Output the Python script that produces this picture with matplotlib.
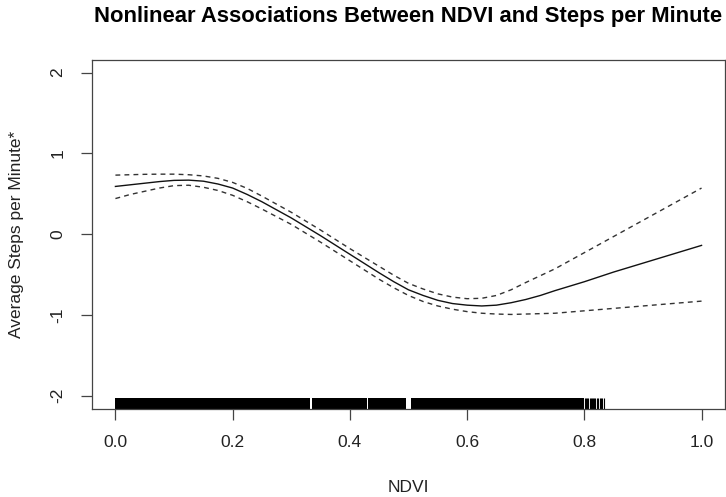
import matplotlib
matplotlib.use("Agg")
import matplotlib.pyplot as plt

# smooth term for NDVI with pointwise confidence band
ndvi = [0.000, 0.025, 0.050, 0.075, 0.100, 0.125, 0.150, 0.175, 0.200, 0.225,
        0.250, 0.275, 0.300, 0.325, 0.350, 0.375, 0.400, 0.425, 0.450, 0.475,
        0.500, 0.525, 0.550, 0.575, 0.600, 0.625, 0.650, 0.675, 0.700, 0.725,
        0.750, 0.775, 0.800, 0.825, 0.850, 0.875, 0.900, 0.925, 0.950, 0.975,
        1.000]
fit = [0.59, 0.61, 0.63, 0.65, 0.665, 0.668, 0.655, 0.62, 0.57, 0.49,
       0.40, 0.30, 0.20, 0.09, -0.02, -0.135, -0.25, -0.365, -0.48, -0.59,
       -0.69, -0.76, -0.82, -0.86, -0.88, -0.89, -0.88, -0.85, -0.81, -0.76,
       -0.70, -0.645, -0.59, -0.53, -0.47, -0.415, -0.36, -0.305, -0.25, -0.195,
       -0.14]
upper = [0.73, 0.735, 0.74, 0.742, 0.742, 0.735, 0.72, 0.69, 0.64, 0.565,
         0.47, 0.37, 0.27, 0.16, 0.05, -0.065, -0.18, -0.29, -0.40, -0.51,
         -0.61, -0.68, -0.74, -0.78, -0.80, -0.795, -0.76, -0.69, -0.60, -0.515,
         -0.43, -0.33, -0.23, -0.13, -0.03, 0.07, 0.17, 0.27, 0.37, 0.47,
         0.57]
lower = [0.44, 0.49, 0.53, 0.57, 0.60, 0.605, 0.58, 0.54, 0.48, 0.40,
         0.31, 0.215, 0.12, 0.01, -0.10, -0.215, -0.33, -0.445, -0.56, -0.665,
         -0.76, -0.835, -0.89, -0.93, -0.96, -0.98, -0.99, -0.995, -0.99, -0.985,
         -0.98, -0.965, -0.95, -0.935, -0.92, -0.905, -0.89, -0.875, -0.86, -0.845,
         -0.83]

# rug of observed NDVI: dense stretches (start, end) and the sparse upper tail
rug_runs = [(0.000, 0.1990), (0.1995, 0.332), (0.335, 0.4297), (0.4302, 0.495),
            (0.4985, 0.4995), (0.504, 0.5997), (0.6002, 0.6667), (0.6672, 0.7137),
            (0.7142, 0.800)]
rug_tail = [0.801, 0.803, 0.805, 0.807, 0.809, 0.811, 0.813, 0.815, 0.817,
            0.819, 0.821, 0.823, 0.826, 0.829, 0.831, 0.834]

x_ticks = [0.0, 0.2, 0.4, 0.6, 0.8, 1.0]
y_ticks = [-2, -1, 0, 1, 2]

plt.rcParams['font.family'] = ['Liberation Sans', 'DejaVu Sans']

fig = plt.figure(figsize=(7.26, 4.97), dpi=100)
ax = fig.add_axes([0.1267, 0.178, 0.8719, 0.702])

ax.plot(ndvi, fit, color='#111111', lw=1.0)
ax.plot(ndvi, upper, color='#333333', lw=1.0, dashes=(3.5, 3))
ax.plot(ndvi, lower, color='#333333', lw=1.0, dashes=(3.5, 3))

rug_trans = ax.get_xaxis_transform()
ax.broken_barh([(a, b - a) for a, b in rug_runs], (0, 0.031),
               facecolor='black', edgecolor='none', transform=rug_trans)
ax.vlines(rug_tail, 0, 0.031, color='black', lw=0.8, transform=rug_trans)

ax.set_xlim(-0.04, 1.04)
ax.set_ylim(-2.16, 2.16)
ax.set_xticks(x_ticks)
ax.set_xticklabels(["%.1f" % v for v in x_ticks])
ax.set_yticks(y_ticks)
ax.set_yticklabels([str(v) for v in y_ticks], rotation=90, va='center')
ax.tick_params(length=8, width=0.9, color='#444444', labelsize=12.5,
               pad=11, labelcolor='#222222')
for s in ax.spines.values():
    s.set_color('#444444')
    s.set_linewidth(0.9)

ax.set_xlabel("NDVI", fontsize=12.5, color='#222222', va='center')
ax.xaxis.set_label_coords(0.5, -0.225)
ax.set_ylabel("Average Steps per Minute*", fontsize=12.5, color='#222222',
              va='center')
ax.yaxis.set_label_coords(-0.119, 0.5)

fig.text(0.5627, 1 - 21.7 / 497, "Nonlinear Associations Between NDVI and Steps per Minute",
         ha='center', va='baseline', fontsize=15.8, fontweight='bold')

fig.savefig("out.png", dpi=100)
